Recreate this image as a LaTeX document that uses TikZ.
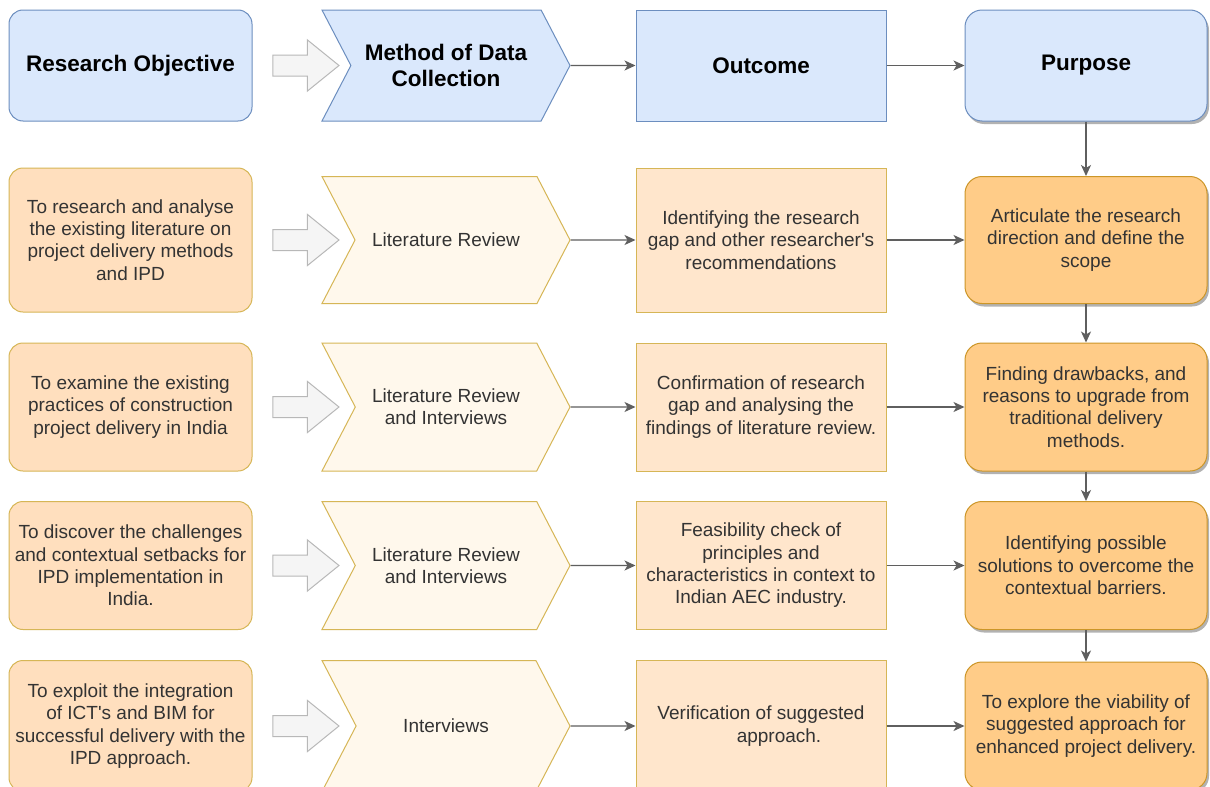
\documentclass[tikz,border=0pt]{standalone}
\usepackage{fontspec}
\setmainfont{Liberation Sans}
\usepackage{tikz}
\usetikzlibrary{arrows.meta,shapes,positioning,shadows}
\usepackage{xcolor}
\definecolor{hdblue}{RGB}{218,232,252}
\definecolor{hdline}{RGB}{108,142,191}
\definecolor{objfill}{RGB}{255,223,190}
\definecolor{tanline}{RGB}{214,182,86}
\definecolor{chevfill}{RGB}{255,248,236}
\definecolor{outfill}{RGB}{255,230,204}
\definecolor{purfill}{RGB}{255,204,136}
\definecolor{purline}{RGB}{204,150,40}
\definecolor{linkgray}{RGB}{95,95,95}
\definecolor{txtgray}{RGB}{51,51,51}
\newcommand{\rowfont}{\fontsize{19}{22.3}\selectfont}
\newcommand{\headfont}{\fontsize{22.5}{26.4}\selectfont\bfseries}
\tikzstyle{objective} = [rectangle, rounded corners=14pt, minimum width=243pt, minimum height=128pt, align=center, draw=tanline, fill=objfill, line width=1pt, font=\rowfont, text=txtgray, inner sep=0pt]
\tikzstyle{method} = [signal, signal to=east, signal from=west, signal pointer angle=125, minimum width=248pt, minimum height=128pt, align=center, draw=tanline, fill=chevfill, line width=1pt, font=\rowfont, text=txtgray, inner sep=0pt]
\tikzstyle{outcome} = [rectangle, minimum width=250pt, minimum height=128pt, align=center, draw=tanline, fill=outfill, line width=1pt, font=\rowfont, text=txtgray, inner sep=0pt]
\tikzstyle{purpose} = [rectangle, rounded corners=17pt, minimum width=242pt, minimum height=128pt, align=center, draw=purline, fill=purfill, line width=1pt, font=\rowfont, text=txtgray, inner sep=0pt, drop shadow={shadow xshift=2pt, shadow yshift=-3pt, fill=black, opacity=0.3}]
\tikzstyle{head} = [fill=hdblue, draw=hdline, minimum height=111pt, font=\headfont, text=black]
\tikzstyle{hollow} = [single arrow, single arrow tip angle=78, single arrow head extend=15pt, minimum height=66pt, inner sep=10pt, draw=black!28, fill=black!4, line width=1pt]
\tikzstyle{arrow} = [line width=1.3pt, ->, >={Stealth[length=11pt,width=10pt,inset=3pt]}, draw=linkgray]

\begin{document}
\begin{tikzpicture}[x=1pt, y=1pt, node distance=315pt]
\useasboundingbox[fill=white] (0,0) rectangle (1210,-787);

% Header row
\node (obj0) [objective, head] at (130.5,-65.5) {Research Objective};
\node (blk0) [hollow, node distance=169pt, right of=obj0] {};
\node (meth0) [method, head, node distance=315.5pt, right of=obj0] {Method of Data\\Collection};
\node (out0) [outcome, head, right of=meth0] {Outcome};
\node (pur0) [purpose, head, node distance=325pt, right of=out0] {Purpose};

% Objective 1
\node (obj1) [objective, minimum height=144pt, node distance=174.5pt, below of=obj0] {To research and analyse\\the existing literature on\\project delivery methods\\and IPD};
\node (blk1) [hollow, node distance=169pt, right of=obj1] {};
\node (meth1) [method, minimum height=127pt, node distance=315.5pt, right of=obj1] {Literature Review};
\node (out1) [outcome, minimum height=144pt, right of=meth1] {Identifying the research\\gap and other researcher\textquotesingle s\\recommendations};
\node (pur1) [purpose, minimum height=127pt, node distance=325pt, right of=out1] {Articulate the research\\direction and define the\\scope};

% Objective 2
\node (obj2) [objective, node distance=167pt, below of=obj1] {To examine the existing\\practices of construction\\project delivery in India};
\node (blk2) [hollow, node distance=169pt, right of=obj2] {};
\node (meth2) [method, node distance=315.5pt, right of=obj2] {Literature Review\\and Interviews};
\node (out2) [outcome, right of=meth2] {Confirmation of research\\gap and analysing the\\findings of literature review.};
\node (pur2) [purpose, node distance=325pt, right of=out2] {Finding drawbacks, and\\reasons to upgrade from\\traditional delivery\\methods.};

% Objective 3
\node (obj3) [objective, node distance=158.5pt, below of=obj2] {To discover the challenges\\and contextual setbacks for\\IPD implementation in\\India.};
\node (blk3) [hollow, node distance=169pt, right of=obj3] {};
\node (meth3) [method, node distance=315.5pt, right of=obj3] {Literature Review\\and Interviews};
\node (out3) [outcome, right of=meth3] {Feasibility check of\\principles and\\characteristics in context to\\Indian AEC industry.};
\node (pur3) [purpose, node distance=325pt, right of=out3] {Identifying possible\\solutions to overcome the\\contextual barriers.};

% Objective 4
\node (obj4) [objective, minimum height=131pt, node distance=160.5pt, below of=obj3] {To exploit the integration\\of ICT\textquotesingle s and BIM for\\successful delivery with the\\IPD approach.};
\node (blk4) [hollow, node distance=169pt, right of=obj4] {};
\node (meth4) [method, minimum height=131pt, node distance=315.5pt, right of=obj4] {Interviews};
\node (out4) [outcome, minimum height=131pt, right of=meth4] {Verification of suggested\\\hspace*{36pt}approach.};
\node (pur4) [purpose, minimum height=128pt, node distance=325pt, right of=out4] {To explore the viability of\\suggested approach for\\enhanced project delivery.};

% Links
\foreach \i in {0,...,4} {
  \draw[arrow] (meth\i) -- (out\i);
  \draw[arrow] (out\i) -- (pur\i);
}
\draw[arrow] (pur0) -- (pur1);
\draw[arrow] (pur1) -- (pur2);
\draw[arrow] (pur2) -- (pur3);
\draw[arrow] (pur3) -- (pur4);
\end{tikzpicture}
\end{document}
